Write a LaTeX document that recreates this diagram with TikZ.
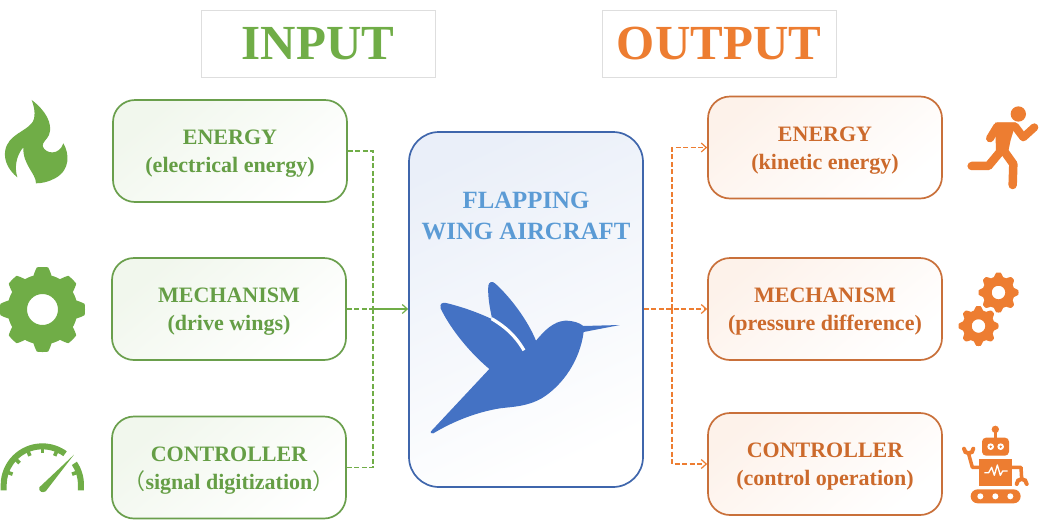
\documentclass[tikz,border=0pt]{standalone}
\usepackage{fontspec}
\setmainfont{Liberation Serif}
\newfontfamily\cjk{Noto Sans CJK SC}
\usetikzlibrary{arrows.meta}
\definecolor{gicon}{HTML}{70AD47}
\definecolor{gline}{HTML}{6A9F4C}
\definecolor{gtext}{HTML}{659E45}
\definecolor{oicon}{HTML}{ED7D31}
\definecolor{oline}{HTML}{C9703A}
\definecolor{otext}{HTML}{CC6A2C}
\definecolor{bline}{HTML}{3F66AC}
\definecolor{btext}{HTML}{5B9BD5}
\definecolor{bicon}{HTML}{4472C4}
\newcommand{\topfix}{\rule{0pt}{20pt}}
\tikzset{
  titlebox/.style={draw=black!13,line width=0.8pt,fill=white,minimum width=234pt,minimum height=67pt,inner sep=0pt,font=\bfseries\fontsize{49}{49}\selectfont},
  gbox/.style={draw=gline,line width=1.7pt,rounded corners=22pt,minimum width=234pt,minimum height=102pt,inner sep=0pt,align=center,text=gtext,font=\bfseries\fontsize{22}{28}\selectfont,
    shade,top color=gicon!10,middle color=gicon!2,bottom color=white,shading angle=40},
  obox/.style={draw=oline,line width=1.7pt,rounded corners=22pt,minimum width=234pt,minimum height=102pt,inner sep=0pt,align=center,text=otext,font=\bfseries\fontsize{22}{28}\selectfont,
    shade,top color=oicon!10,middle color=oicon!2,bottom color=white,shading angle=40},
  cbox/.style={draw=bline,line width=1.7pt,rounded corners=30pt,minimum width=234pt,minimum height=355pt,inner sep=0pt,
    shade,top color=bicon!11,middle color=white,bottom color=white,shading angle=25},
  gconn/.style={color=gicon,line width=1.2pt},
  oconn/.style={color=oicon,line width=1.2pt},
  barb/.style={-{Straight Barb[length=5pt,width=9pt]}},
  dsh/.style={dash pattern=on 5pt off 2.5pt},
}
\newcommand{\gearicon}[7]{% cx cy outer inner hole color sharp
  \fill[#6,even odd rule] plot[domain=0:360,samples=289,smooth] ({#1+(#4+(#3-#4)*min(1,max(0,0.5+#7*cos(8*\x))))*cos(\x)},{#2+(#4+(#3-#4)*min(1,max(0,0.5+#7*cos(8*\x))))*sin(\x)}) -- cycle (#1,#2) circle (#5);
}
\begin{document}
\begin{tikzpicture}[x=1pt,y=-1pt]
\useasboundingbox (0,0) rectangle (1039,520);
\fill[white] (0,0) rectangle (1039,520);
% titles
\node[titlebox,text=gicon] (tin) at (318,43.5) {INPUT};
\node[titlebox,text=oicon] (tout) at (719,43.5) {OUTPUT};
% boxes
\node[gbox] (ge) at (230,151) {\topfix ENERGY\\(electrical energy)};
\node[gbox] (gm) at (229,309) {\topfix MECHANISM\\(drive wings)};
\node[gbox] (gc) at (229,467.5) {\topfix CONTROLLER\\{\cjk\mdseries （}signal digitization{\cjk\mdseries ）}};
\node[obox] (oe) at (825,147.5) {\topfix ENERGY\\(kinetic energy)};
\node[obox] (om) at (825,309) {\topfix MECHANISM\\(pressure difference)};
\node[obox] (oc) at (825,464) {\topfix CONTROLLER\\(control operation)};
\node[cbox] (ctr) at (526,309.5) {};
\node[align=center,text=btext,inner sep=0pt,font=\bfseries\fontsize{24.8}{31.5}\selectfont] (ctitle) at (526,216) {FLAPPING\\WING AIRCRAFT};
% connectors
\coordinate (jl) at (373,309);
\coordinate (jr) at (672,309);
\draw[gconn,dsh] (ge.east) -| (jl);
\draw[gconn,dsh] (gc.east) -| (jl);
\draw[gconn,dsh] (gm.east) -- (jl);
\draw[gconn,barb] (jl) -- (ctr.west |- jl);
\draw[oconn,dsh,barb] (ctr.east |- jr) -- (om.west);
\draw[oconn,dsh,barb] (jr) |- (oe.west);
\draw[oconn,dsh,barb] (jr) |- (oc.west);
% bird
\begin{scope}[shift={(420,270)},x=0.3333pt,y=-0.3333pt]
\fill[bicon] (33,484) -- (208,297) .. controls (140,240) and (85,165) .. (62,115)
  .. controls (58,100) and (68,97) .. (78,99)
  .. controls (125,110) and (175,128) .. (217,148)
  .. controls (208,110) and (203,75) .. (205,47)
  .. controls (207,35) and (217,33) .. (225,40)
  .. controls (275,85) and (325,155) .. (348,212)
  .. controls (375,180) and (400,155) .. (435,152)
  .. controls (460,152) and (478,158) .. (490,168)
  -- (600,165) -- (491,186)
  .. controls (480,270) and (430,345) .. (365,385)
  .. controls (320,410) and (280,410) .. (240,415)
  .. controls (160,428) and (90,460) .. (40,490)
  .. controls (33,492) and (30,488) .. (33,484) -- cycle;
\draw[white,line width=3.2pt] (215,146) .. controls (255,170) and (285,195) .. (312,241);
\end{scope}
% flame
\begin{scope}[x=0.3333pt,y=-0.3333pt,shift={(0,270)}]
\fill[gicon] (95,30) .. controls (135,60) and (160,100) .. (147,135)
  .. controls (140,150) and (128,155) .. (128,168)
  .. controls (135,192) and (178,198) .. (190,160)
  .. controls (208,190) and (212,240) .. (165,265)
  .. controls (145,276) and (125,280) .. (108,280)
  .. controls (108,250) and (68,225) .. (70,172)
  .. controls (50,195) and (42,230) .. (52,262)
  .. controls (25,240) and (10,210) .. (16,180)
  .. controls (25,135) and (75,125) .. (95,100)
  .. controls (108,85) and (105,55) .. (95,30) -- cycle;
\end{scope}
% gear left
\gearicon{42.5}{309.5}{42.5}{35}{15.5}{gicon}{1.0}
% gauge
\begin{scope}[shift={(0,430)},x=0.3333pt,y=-0.3333pt]
\fill[gicon] (2,181) -- (2,165) arc[start angle=180,end angle=306,radius=125] -- ({127+107*cos(306)},{165+107*sin(306)}) arc[start angle=306,end angle=180,radius=107] -- (20,181) -- cycle;
\fill[gicon] ({127+125*cos(326)},{165+125*sin(326)}) arc[start angle=326,end angle=360,radius=125] -- (252,181) -- (234,181) -- (234,165) arc[start angle=360,end angle=326,radius=107] -- cycle;
\foreach \a in {160,136,113,90,67,20} {
  \draw[gicon,line width=3.6pt] ({127+110*cos(\a)},{165-110*sin(\a)}) -- ({127+95*cos(\a)},{165-95*sin(\a)});
}
\fill[gicon] (222,74) -- (137,184) .. controls (128,190) and (115,185) .. (118,172) -- cycle;
\end{scope}
% runner
\begin{scope}[shift={(940,90)},x=0.3333pt,y=-0.3333pt]
\fill[oicon] (235,72) circle (23);
\draw[oicon,line width=8pt,line cap=round,line join=round] (150,145) -- (172,109) -- (225,109) -- (250,142) -- (283,112);
\fill[oicon] (165,98) -- (228,98) -- (212,150) -- (202,198) -- (168,180) -- cycle;
\draw[oicon,line width=8.5pt,line cap=round,line join=round] (185,180) -- (145,228) -- (95,228);
\draw[oicon,line width=8.5pt,line cap=round,line join=round] (190,180) -- (220,222) -- (218,285);
\end{scope}
% orange gears
\gearicon{998.5}{292.5}{20}{16}{6.8}{oicon}{0.7}
\gearicon{978.5}{326}{20}{16}{6.8}{oicon}{0.7}
% robot
\begin{scope}[shift={(940,410)},x=0.3333pt,y=-0.3333pt]
\draw[oicon,line width=2.6pt] (166,58) -- (166,90);
\fill[oicon] (166,58) circle (11);
\fill[oicon,rounded corners=4pt] (126,83) rectangle (207,137);
\foreach \c in {152,182} {\fill[white] (\c,110) circle (10); \fill[oicon] (\c,110) circle (4);}
\fill[oicon] (117,147) rectangle (216,228);
\draw[white,line width=1.3pt,line join=round] (133,188) -- (146,188) -- (155,172) -- (163,196) -- (172,165) -- (181,196) -- (188,183) -- (203,183);
\fill[oicon,rounded corners=7pt] (92,238) rectangle (242,280);
\foreach \c in {121,166,211} {\fill[white] (\c,259) circle (9);}
\draw[oicon,line width=3.5pt,line join=round] (117,172) -- (97,172) -- (86,132);
\draw[oicon,line width=4pt,line cap=round] (72,116) arc[start angle=180,end angle=0,radius=14];
\draw[oicon,line width=3.5pt,line join=round] (216,172) -- (243,172) -- (245,206);
\draw[oicon,line width=4pt,line cap=round] (230,222) arc[start angle=180,end angle=360,radius=15];
\end{scope}
\end{tikzpicture}
\end{document}
